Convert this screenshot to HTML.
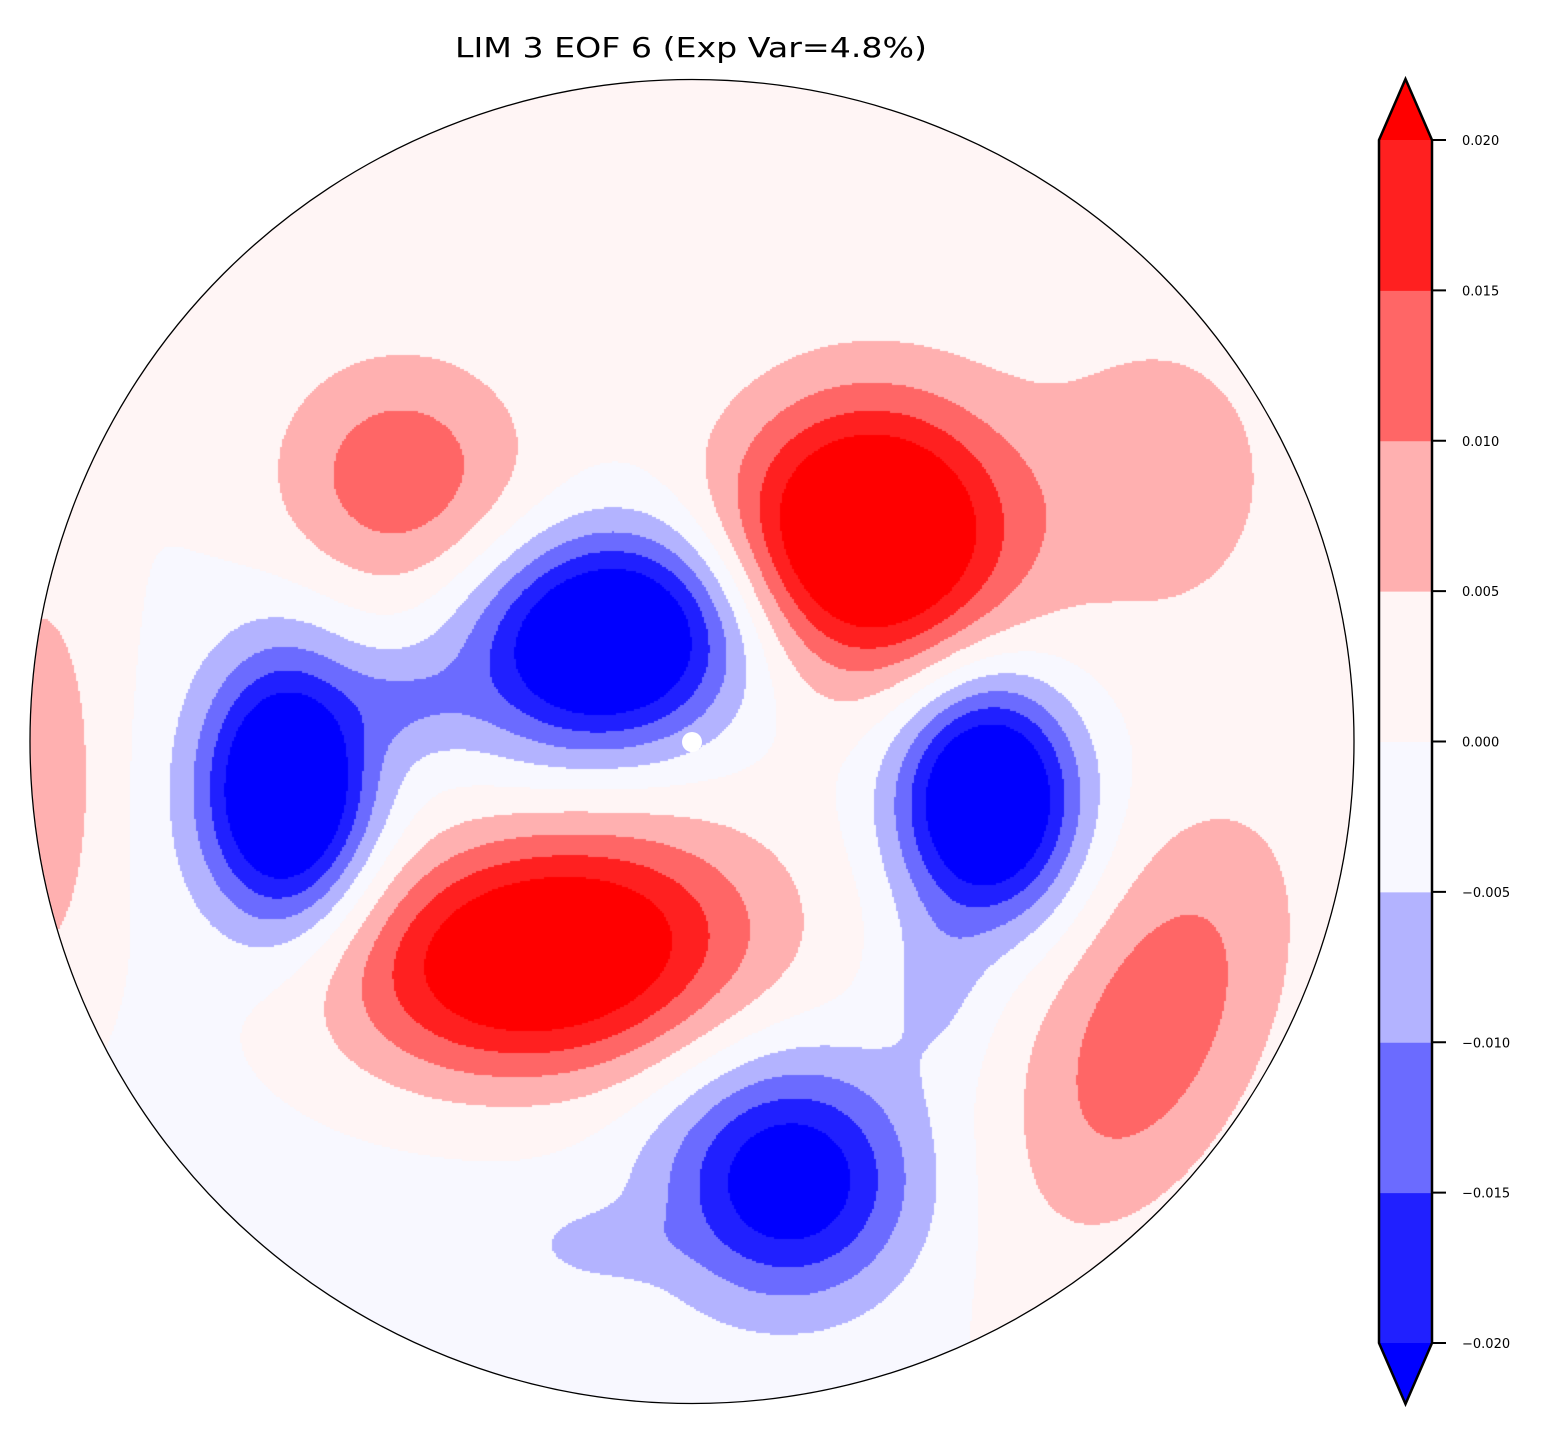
<!DOCTYPE html>
<html><head><meta charset="utf-8"><style>
html,body{margin:0;padding:0;background:#fff;width:1553px;height:1433px;overflow:hidden}
#wrap{position:relative;width:1553px;height:1433px}
canvas{position:absolute;left:0;top:0}
svg{position:absolute;left:0;top:0}
text{font-family:"DejaVu Sans","Liberation Sans",sans-serif}
</style></head><body>
<div id="wrap">
<canvas id="map" width="1553" height="1433"></canvas>
<svg id="ov" width="1553" height="1433">
<text x="691" y="57" font-size="28" text-anchor="middle" textLength="472" lengthAdjust="spacingAndGlyphs" fill="#000">LIM 3 EOF 6 (Exp Var=4.8%)</text>
<circle cx="692" cy="741.5" r="662" fill="none" stroke="#000" stroke-width="1.3"/>
<circle cx="692" cy="742" r="10" fill="#fff"/>
<g id="cbar"></g>
</svg>
</div>
<script>
// contour levels and colors
const levels = [-0.02,-0.015,-0.01,-0.005,0,0.005,0.01,0.015,0.02];
const bandColors = ["#0000ff","#2020ff","#6b6bff","#b3b3ff","#f8f8ff","#fff5f5","#ffb0b0","#ff6666","#ff2020","#ff0000"];
const tickLabels = ["\u22120.020","\u22120.015","\u22120.010","\u22120.005","0.000","0.005","0.010","0.015","0.020"];
// anomaly centres (map coords), amplitudes, widths, rotation
const blobX = [400,610,287,870,1160,988,545,790,1150,40,410,935,600,1000,400];
const blobY = [478,640,790,535,480,800,955,1180,1030,790,700,990,1245,400,1100];
const blobAmp = [0.0135,-0.034,-0.034,0.034,0.0065,-0.035,0.032,-0.025,0.0135,0.009,-0.006,-0.0055,-0.005,0.0015,-0.002];
const blobSx = [88,95,58,95,90,62,140,85,78,50,45,40,50,400,350];
const blobSy = [85,74,92,92,110,82,85,82,150,170,35,60,25,400,350];
const blobRot = [0,-10,0,0,0,0,-8,0,25,0,0,0,0,0,0];

const CX=692, CY=741.5, R=662;
function field(x,y){
  let v=0;
  for(let i=0;i<blobX.length;i++){
    const a=blobRot[i]*Math.PI/180, dx=x-blobX[i], dy=y-blobY[i];
    const u=dx*Math.cos(a)+dy*Math.sin(a), w=-dx*Math.sin(a)+dy*Math.cos(a);
    v+=blobAmp[i]*Math.exp(-(u*u/(2*blobSx[i]*blobSx[i])+w*w/(2*blobSy[i]*blobSy[i])));
  }
  return v;
}
function band(v){let k=0;while(k<levels.length&&v>=levels[k])k++;return k;}
const cv=document.getElementById('map'),ctx=cv.getContext('2d');
ctx.save();ctx.beginPath();ctx.arc(CX,CY,R,0,Math.PI*2);ctx.clip();
const S=2;
for(let y=Math.floor(CY-R);y<CY+R;y+=S){
  let run=-1,start=0;
  for(let x=Math.floor(CX-R);x<=CX+R+S;x+=S){
    const b=x>CX+R?-2:band(field(x+1,y+1));
    if(b!==run){
      if(run>=0){ctx.fillStyle=bandColors[run];ctx.fillRect(start,y,x-start,S);}
      run=b;start=x;
    }
  }
}
ctx.restore();

// colorbar
const ns='http://www.w3.org/2000/svg';
const g=document.getElementById('cbar');
const cbL=1379,cbR=1432,cbTop=140,cbBot=1343,tip=61;
function cbY(v){return cbBot-(v-levels[0])/(levels[levels.length-1]-levels[0])*(cbBot-cbTop);}
for(let i=0;i<levels.length-1;i++){
  const r=document.createElementNS(ns,'rect');
  
  
  r.setAttribute('x',cbL);r.setAttribute('width',cbR-cbL);
  r.setAttribute('y',cbY(levels[i+1]));r.setAttribute('height',cbY(levels[i])-cbY(levels[i+1])+0.5);
  r.setAttribute('fill',bandColors[i+1]);g.appendChild(r);
}
const up=document.createElementNS(ns,'polygon');


up.setAttribute('points',`${cbL},${cbTop} ${(cbL+cbR)/2},${cbTop-tip} ${cbR},${cbTop}`);
up.setAttribute('fill',bandColors[bandColors.length-1]);g.appendChild(up);
const dn=document.createElementNS(ns,'polygon');


dn.setAttribute('points',`${cbL},${cbBot} ${(cbL+cbR)/2},${cbBot+tip} ${cbR},${cbBot}`);
dn.setAttribute('fill',bandColors[0]);g.appendChild(dn);
const ol=document.createElementNS(ns,'polygon');


ol.setAttribute('points',`${cbL},${cbTop} ${(cbL+cbR)/2},${cbTop-tip} ${cbR},${cbTop} ${cbR},${cbBot} ${(cbL+cbR)/2},${cbBot+tip} ${cbL},${cbBot}`);
ol.setAttribute('fill','none');ol.setAttribute('stroke','#000');ol.setAttribute('stroke-width','2.5');g.appendChild(ol);
for(let i=0;i<levels.length;i++){
  const y=cbY(levels[i]);
  const t=document.createElementNS(ns,'line');
  
  
  t.setAttribute('x1',cbR);t.setAttribute('x2',cbR+14);t.setAttribute('y1',y);t.setAttribute('y2',y);
  t.setAttribute('stroke','#000');t.setAttribute('stroke-width','2');g.appendChild(t);
  const tx=document.createElementNS(ns,'text');
  
  
  tx.setAttribute('x',1462);tx.setAttribute('y',y+5);tx.setAttribute('font-size','13');
  tx.textContent=tickLabels[i];g.appendChild(tx);
}
</script>
</body></html>
